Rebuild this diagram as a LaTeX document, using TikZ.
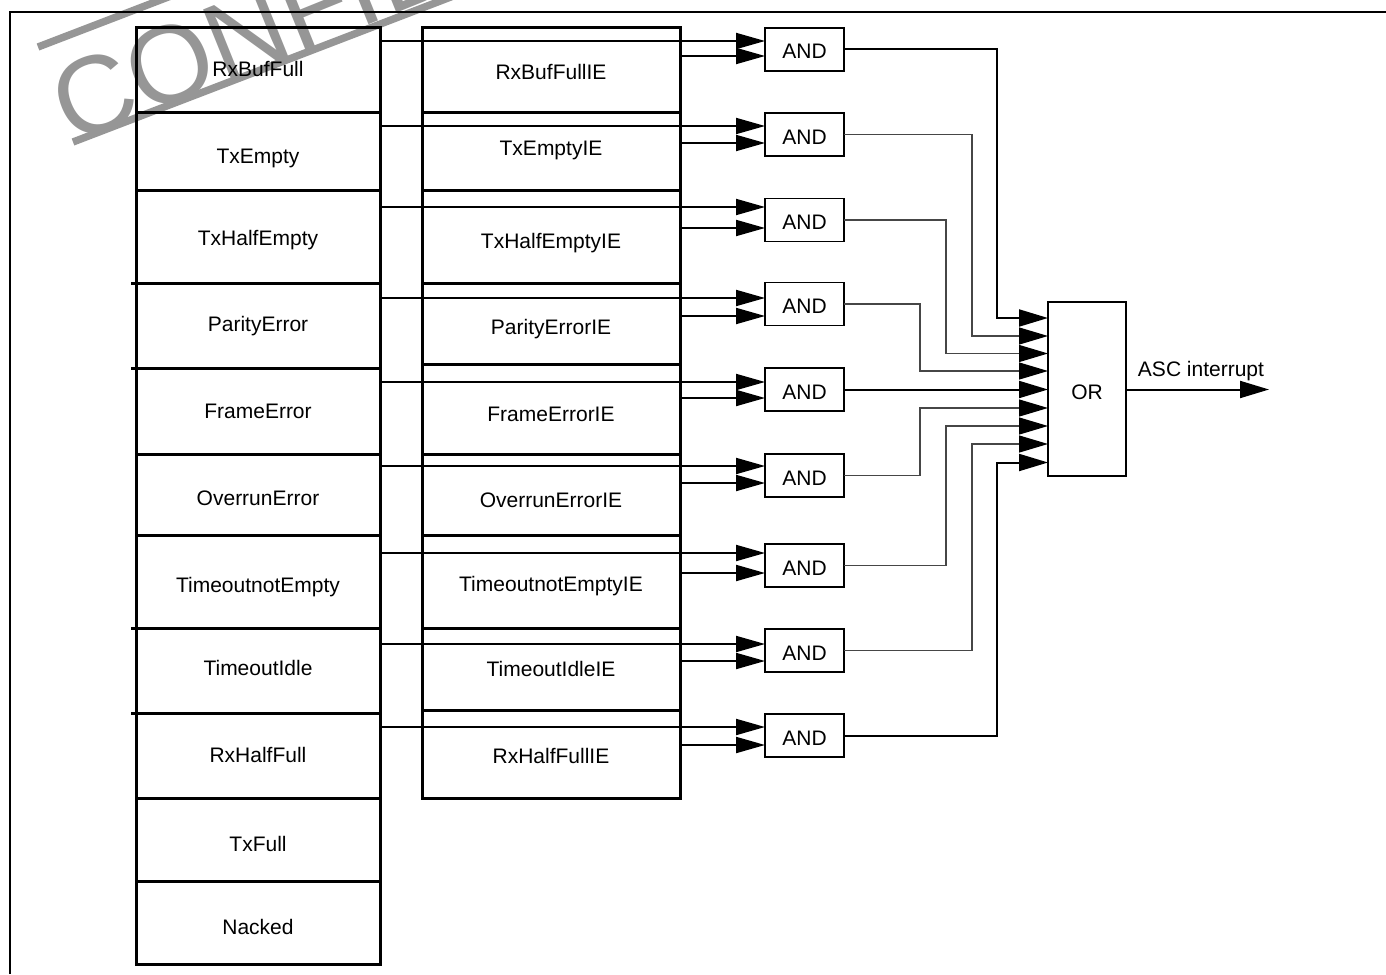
\documentclass[tikz,border=0pt]{standalone}
\usepackage{fontspec}
\setmainfont{Liberation Sans}
\newfontfamily\wmfont{Liberation Sans}
\usetikzlibrary{arrows.meta}
\definecolor{wmgray}{RGB}{150,150,150}
\definecolor{thinline}{RGB}{70,70,70}
\begin{document}
\begin{tikzpicture}[x=0.5pt,y=-0.5pt,
  every node/.style={inner sep=0pt,outer sep=0pt},
  lcell/.style={draw,line width=1.5pt,minimum width=122pt},
  iecell/.style={draw,line width=1.5pt,minimum width=129pt},
  lab/.style={font=\fontsize{10.5}{12}\selectfont,anchor=base},
  gate/.style={draw,line width=0.9pt,minimum width=39.5pt,minimum height=21.5pt,font=\fontsize{10.5}{12}\selectfont,text height=9.5pt,text depth=0pt},
  orgate/.style={draw,line width=0.9pt,minimum width=39pt,minimum height=87pt,font=\fontsize{10.5}{12}\selectfont,text height=10.5pt,text depth=0pt},
  sig/.style={line width=1pt,-{Triangle[length=14.5pt,width=8pt]}},
  outthick/.style={line width=1pt,-{Triangle[length=14.5pt,width=8.5pt]}},
  outthin/.style={line width=0.6pt,draw=thinline,-{Triangle[length=14.5pt,width=8.5pt,color=black]}},
  tick/.style={line width=1.5pt}
]
\useasboundingbox (0,0) rectangle (1386,974);

% watermark
\begin{scope}
  \clip (0,0) rectangle (1386,974);
  \draw[wmgray,line width=3.7pt] (38,47) -- ++(-21:700);
  \draw[wmgray,line width=3.7pt] (73,142) -- ++(-21:700);
  \node[text=wmgray,font=\wmfont\fontsize{55}{55}\selectfont,rotate=22,anchor=base west] (wm) at (71,145) {CONFIDENTIAL};
\end{scope}

% frame
\draw[line width=1pt] (10,974) -- (10,12) -- (1386,12);

% left column
\foreach \i/\c/\h/\b/\t in {
  1/70.5/42.5pt/76/RxBufFull,
  2/151.5/38.5pt/163/TxEmpty,
  3/236.5/46.5pt/245.5/TxHalfEmpty,
  4/325.5/42.5pt/331.5/ParityError,
  5/411/43pt/418.5/FrameError,
  6/494.5/40.5pt/505.5/OverrunError,
  7/581.5/46.5pt/592.5/TimeoutnotEmpty,
  8/670.5/42.5pt/675.5/TimeoutIdle,
  9/755.5/42.5pt/762.5/RxHalfFull,
  10/839.5/41.5pt/851/TxFull,
  11/922.5/41.5pt/934.5/Nacked}{
  \node[lcell,minimum height=\h] (L\i) at (258,\c) {};
  \node[lab] (Lt\i) at (258,\b) {\t};
}

% small ticks on the left edge
\draw[tick] (131,283) -- (L4.north west);
\draw[tick] (131,368) -- (L5.north west);
\draw[tick] (131,628) -- (L8.north west);
\draw[tick] (131,713) -- (L9.north west);

% IE column
\foreach \i/\c/\h/\b/\t in {
  1/70.5/42.5pt/79.5/RxBufFullIE,
  2/151.5/38.5pt/155.5/TxEmptyIE,
  3/236.5/46.5pt/248.5/TxHalfEmptyIE,
  4/323.5/40.5pt/334/ParityErrorIE,
  5/409/45pt/421.5/FrameErrorIE,
  6/494.5/40.5pt/507.5/OverrunErrorIE,
  7/581.5/46.5pt/591.5/TimeoutnotEmptyIE,
  8/669/41pt/676.5/TimeoutIdleIE,
  9/754/44pt/763.5/RxHalfFullIE}{
  \node[iecell,minimum height=\h] (E\i) at (551,\c) {};
  \node[lab] (Et\i) at (551,\b) {\t};
}

% AND gates
\foreach \i/\c in {1/49.5,2/134.5,3/220,4/304,5/389.5,6/475.5,7/565.5,8/650.5,9/735.5}{
  \node[gate] (G\i) at (804.5,\c) {AND};
}

% OR gate
\node[orgate] (OR) at (1087,389) {OR};

% gate inputs
\foreach \i/\ya/\yb in {1/41/56,2/126/143,3/207/228,4/298/316,5/382/398,6/466/483,7/553/573,8/644/661,9/727/745}{
  \coordinate (sa\i) at (0,\ya);
  \coordinate (sb\i) at (0,\yb);
  \draw[sig] (L\i.east |- sa\i) -- (G\i.west |- sa\i);
  \draw[sig] (E\i.east |- sb\i) -- (G\i.west |- sb\i);
}

% OR inputs
\foreach \i/\y in {1/318,2/336,3/353.5,4/371,5/389.5,6/408,7/426,8/444,9/462.5}{
  \coordinate (oi\i) at (0,\y);
}
\draw[outthick] (G1.east) -- ++(153,0) |- (OR.west |- oi1);
\draw[outthin]  (G2.east) -- ++(128,0) |- (OR.west |- oi2);
\draw[outthin]  (G3.east) -- ++(102,0) |- (OR.west |- oi3);
\draw[outthin]  (G4.east) -- ++(76,0) |- (OR.west |- oi4);
\draw[outthick] (G5.east) -- (OR.west |- oi5);
\draw[outthin]  (G6.east) -- ++(76,0) |- (OR.west |- oi6);
\draw[outthin]  (G7.east) -- ++(102,0) |- (OR.west |- oi7);
\draw[outthin]  (G8.east) -- ++(128,0) |- (OR.west |- oi8);
\draw[outthick] (G9.east) -- ++(153,0) |- (OR.west |- oi9);

% output
\coordinate (out) at (1269,389.5);
\draw[outthick] (OR.east |- out) -- (out);
\node[lab] (asc) at (1201,376.7) {ASC interrupt};
\end{tikzpicture}
\end{document}
